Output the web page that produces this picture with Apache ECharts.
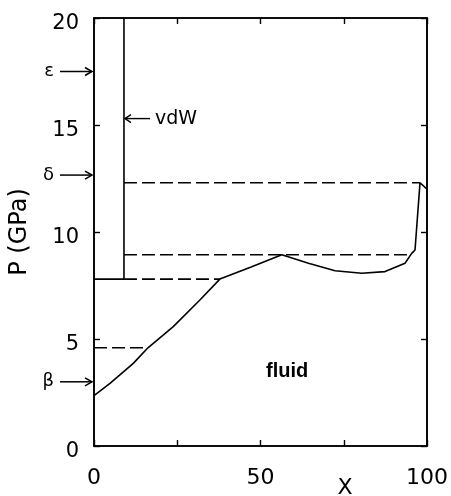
<!DOCTYPE html>
<html><head><meta charset="utf-8">
<script src="https://cdn.jsdelivr.net/npm/echarts@6/dist/echarts.min.js"></script>
<style>html,body{margin:0;padding:0;background:#fff}#c{width:451px;height:496px}</style>
</head><body><div id="c"></div>
<script>
// fluid boundary curve
const curveX = [0, 4.8, 11.8, 16.2, 23.8, 31.8, 37.8, 47, 56.4, 64.4, 72.4, 80.4, 87.4, 93.4, 95.4, 96.4, 97.9, 100];
const curveP = [2.35, 2.93, 3.86, 4.59, 5.58, 6.82, 7.8, 8.35, 8.94, 8.54, 8.19, 8.07, 8.15, 8.54, 9.0, 9.16, 12.3, 12.0];
// vdW line
const vdwX = [0, 9, 9];
const vdwP = [7.8, 7.8, 20];
// dashed tie lines
const tieStartX = [9, 9, 9, 0];
const tieEndX = [97.9, 95.4, 37.8, 16.2];
const tieP = [12.3, 8.94, 7.8, 4.59];
// arrow markers on the P axis
const markerP = [17.5, 12.66, 3.0];
const markerLabels = ['ε', 'δ', 'β'];
// annotations
const vdwLabel = {x: 9.3, p: 15.3, text: 'vdW'};
const fluidLabel = {x: 58, p: 3.5, text: 'fluid'};
const xName = {x: 75.4, text: 'X'};
const xTicks = [0, 50, 100];
const yTicks = [0, 5, 10, 15, 20];

const FONT = 'DejaVu Sans, sans-serif';
const chart = echarts.init(document.getElementById('c'));

const tieSeries = tieP.map((p, i) => ({
  type: 'line', xAxisIndex: 0, yAxisIndex: 0, symbol: 'none', silent: true,
  data: [[tieStartX[i], p], [tieEndX[i], p]],
  lineStyle: {color: '#000', width: 1.6, type: [13, 5]}
}));

function axisStyle(extra) {
  return Object.assign({
    show: true,
    axisLine: {show: true, onZero: false, lineStyle: {color: '#000', width: 1.6}},
    axisTick: {show: true, inside: true, length: 6, lineStyle: {color: '#000', width: 1.4}},
    splitLine: {show: false}
  }, extra);
}

chart.setOption({
  animation: false,
  grid: {left: 94, top: 18, right: 24, bottom: 50, containLabel: false, outerBoundsMode: 'none',
    show: true, borderColor: '#000', borderWidth: 1.6, backgroundColor: 'transparent'},
  xAxis: [
    axisStyle({type: 'value', min: 0, max: 100, interval: 25, position: 'bottom',
      axisLabel: {color: '#000', fontSize: 22, fontFamily: FONT, margin: 21,
        formatter: v => xTicks.includes(v) ? String(v) : ''}}),
    axisStyle({type: 'value', min: 0, max: 100, interval: 25, position: 'top',
      axisLabel: {show: false}})
  ],
  yAxis: [
    axisStyle({type: 'value', min: 0, max: 20, interval: 5, position: 'left',
      name: 'P (GPa)', nameLocation: 'middle', nameGap: 62,
      nameTextStyle: {color: '#000', fontSize: 24, fontFamily: FONT},
      axisLabel: {color: '#000', fontSize: 21, fontFamily: FONT, margin: 15,
        formatter: v => yTicks.includes(v) ? '{t|' + v + '}' : '',
        rich: {t: {fontSize: 21, fontFamily: FONT, color: '#000', padding: [11, 0, 0, 0]}}}}),
    axisStyle({type: 'value', min: 0, max: 20, interval: 5, position: 'right',
      axisLabel: {show: false}})
  ],
  series: [
    {type: 'line', symbol: 'none', silent: true,
      data: curveX.map((x, i) => [x, curveP[i]]),
      lineStyle: {color: '#000', width: 1.6}},
    {type: 'line', symbol: 'none', silent: true,
      data: vdwX.map((x, i) => [x, vdwP[i]]),
      lineStyle: {color: '#000', width: 1.6}},
    ...tieSeries,
    {type: 'line', xAxisIndex: 1, yAxisIndex: 1, symbol: 'none', silent: true, data: [],
      lineStyle: {opacity: 0}},
    {type: 'custom', clip: false, silent: true,
      data: markerP.map((p, i) => [0, p, i]),
      encode: {x: 0, y: 1},
      renderItem: (params, api) => {
        const pt = api.coord([api.value(0), api.value(1)]);
        const i = api.value(2);
        const x1 = pt[0] - 2, y = pt[1];
        return {type: 'group', children: [
          {type: 'line', shape: {x1: pt[0] - 34, y1: y, x2: x1, y2: y},
            style: {stroke: '#000', lineWidth: 1.5}},
          {type: 'polyline', shape: {points: [[x1 - 7, y - 4], [x1, y], [x1 - 7, y + 4]]},
            style: {stroke: '#000', lineWidth: 1.5, fill: null}},
          {type: 'text', style: {x: pt[0] - 40, y: y, text: markerLabels[i],
            align: 'right', verticalAlign: 'middle', fill: '#000',
            font: '18px ' + FONT}}
        ]};
      }},
    {type: 'custom', clip: false, silent: true,
      data: [[vdwLabel.x, vdwLabel.p]],
      encode: {x: 0, y: 1},
      renderItem: (params, api) => {
        const pt = api.coord([api.value(0), api.value(1)]);
        const x = pt[0], y = pt[1];
        return {type: 'group', children: [
          {type: 'line', shape: {x1: x, y1: y, x2: x + 25, y2: y},
            style: {stroke: '#000', lineWidth: 1.4}},
          {type: 'polyline', shape: {points: [[x + 6, y - 4], [x, y], [x + 6, y + 4]]},
            style: {stroke: '#000', lineWidth: 1.4, fill: null}},
          {type: 'text', style: {x: x + 30, y: y, text: vdwLabel.text,
            align: 'left', verticalAlign: 'middle', fill: '#000',
            font: '19px ' + FONT}}
        ]};
      }},
    {type: 'custom', clip: false, silent: true,
      data: [[fluidLabel.x, fluidLabel.p]],
      encode: {x: 0, y: 1},
      renderItem: (params, api) => {
        const pt = api.coord([api.value(0), api.value(1)]);
        return {type: 'text', style: {x: pt[0], y: pt[1], text: fluidLabel.text,
          align: 'center', verticalAlign: 'middle', fill: '#000',
          font: 'bold 20px Liberation Sans, Arial, sans-serif'}};
      }},
    {type: 'custom', clip: false, silent: true,
      data: [[xName.x, 0]],
      encode: {x: 0, y: 1},
      renderItem: (params, api) => {
        const pt = api.coord([api.value(0), api.value(1)]);
        return {type: 'text', style: {x: pt[0], y: pt[1] + 42, text: xName.text,
          align: 'center', verticalAlign: 'middle', fill: '#000',
          font: '22px ' + FONT}};
      }}
  ]
});
</script></body></html>
